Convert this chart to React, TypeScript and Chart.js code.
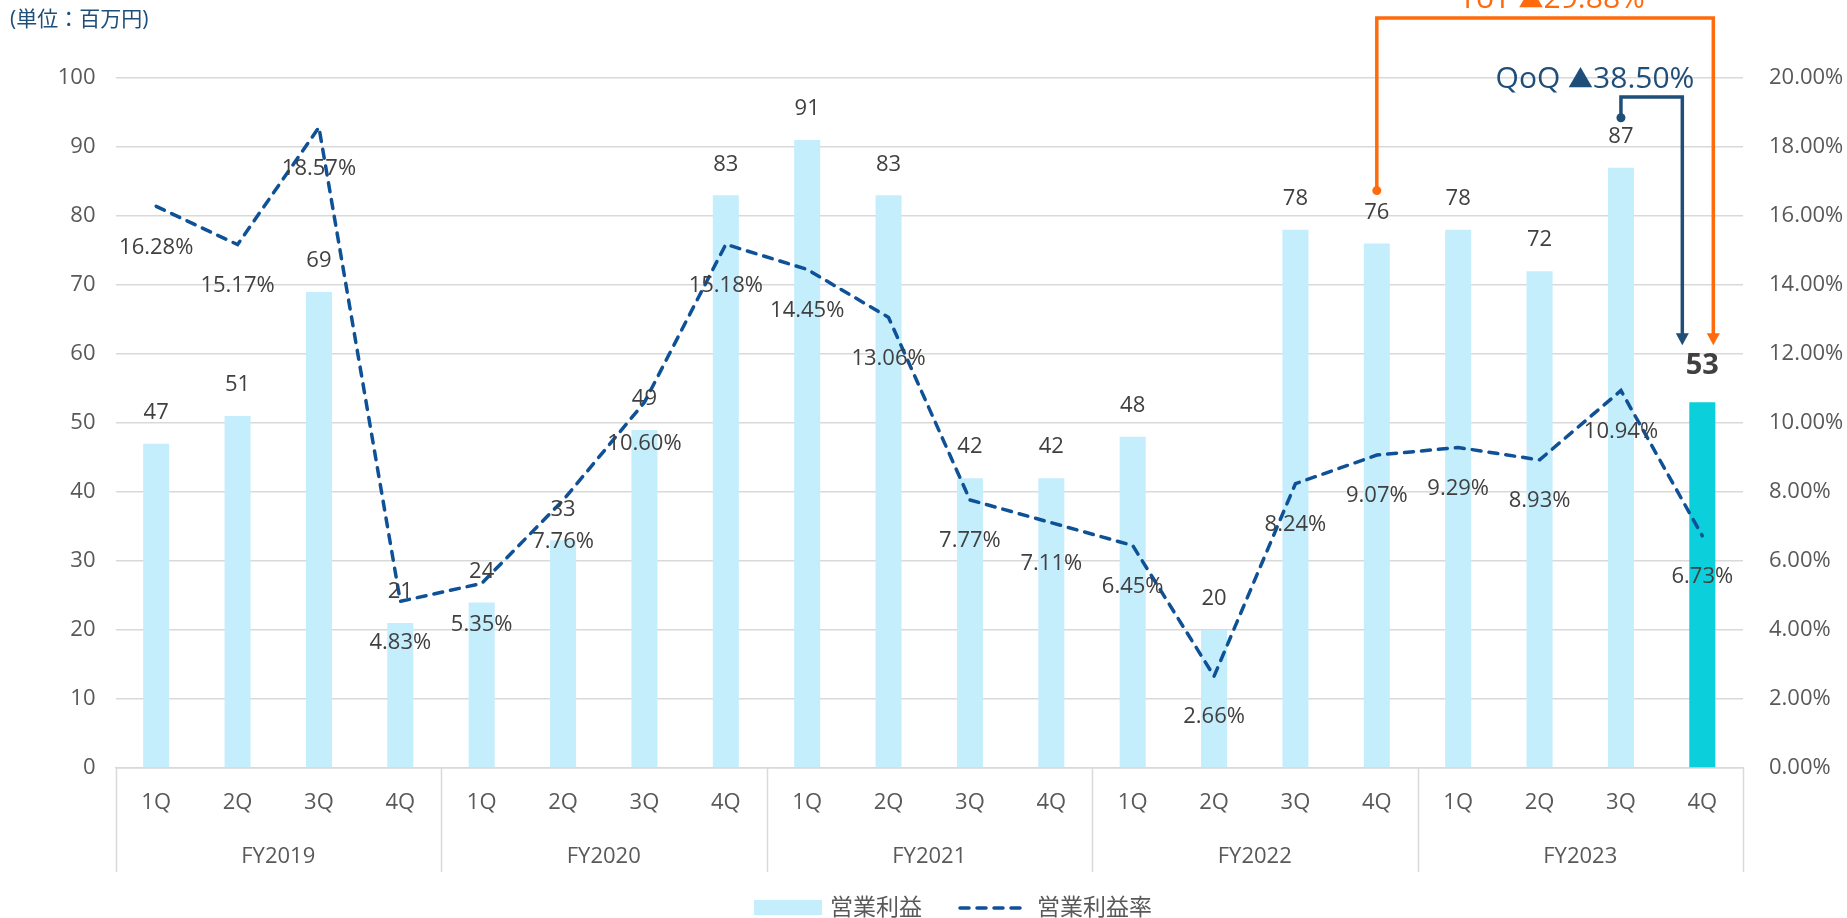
import React, { useEffect, useRef } from 'react';
import { Chart, registerables } from 'chart.js';

Chart.register(...registerables);

const quarters = ['1Q', '2Q', '3Q', '4Q', '1Q', '2Q', '3Q', '4Q', '1Q', '2Q', '3Q', '4Q', '1Q', '2Q', '3Q', '4Q', '1Q', '2Q', '3Q', '4Q'];
const fiscalYears = ['FY2019', 'FY2020', 'FY2021', 'FY2022', 'FY2023'];
const operatingProfit = [47, 51, 69, 21, 24, 33, 49, 83, 91, 83, 42, 42, 48, 20, 78, 76, 78, 72, 87, 53];
const operatingMargin = [16.28, 15.17, 18.57, 4.83, 5.35, 7.76, 10.6, 15.18, 14.45, 13.06, 7.77, 7.11, 6.45, 2.66, 8.24, 9.07, 9.29, 8.93, 10.94, 6.73];
const seriesNames = ['営業利益', '営業利益率'];
const unitLabel = '(単位：百万円)';
const yoyParts = ['YoY ', '▲', '29.88%'];
const qoqParts = ['QoQ ', '▲', '38.50%'];

const FONT = "'Open Sans', 'Noto Sans CJK JP', 'DejaVu Sans', sans-serif";
const BAR = '#C5EEFD';
const BAR_HI = '#0BCFDB';
const LINE = '#0F5196';
const NAVY = '#1F4E79';
const ORANGE = '#FF6A0D';
const AXIS_TXT = '#595959';
const LABEL_TXT = '#404040';
const GRID = '#D9D9D9';

function drawParts(ctx: any, parts: string[], cx: number, baseline: number, big: number, small: number) {
  const fonts = [`${big}px ${FONT}`, `${small}px ${FONT}`, `${big}px ${FONT}`];
  const widths = parts.map((p, i) => { ctx.font = fonts[i]; return ctx.measureText(p).width; });
  const total = widths.reduce((a, b) => a + b, 0);
  let x = cx - total / 2;
  ctx.textAlign = 'left';
  ctx.textBaseline = 'alphabetic';
  parts.forEach((p, i) => {
    ctx.font = fonts[i];
    ctx.fillText(p, x, baseline);
    x += widths[i];
  });
}

const overlay = {
  id: 'overlay',
  afterDatasetsDraw(chart: any) {
    const ctx = chart.ctx;
    const barMeta = chart.getDatasetMeta(0);
    const lineMeta = chart.getDatasetMeta(1);
    ctx.save();
    ctx.textAlign = 'center';
    ctx.textBaseline = 'middle';
    ctx.fillStyle = LABEL_TXT;
    barMeta.data.forEach((el: any, i: number) => {
      const last = i === operatingProfit.length - 1;
      ctx.font = last ? `bold 29px ${FONT}` : `22px ${FONT}`;
      ctx.fillText(String(operatingProfit[i]), el.x, el.y - (last ? 37 : 31));
    });
    ctx.font = `22px ${FONT}`;
    lineMeta.data.forEach((el: any, i: number) => {
      ctx.fillText(operatingMargin[i].toFixed(2) + '%', el.x, el.y + 41);
    });
    ctx.restore();
  },
  afterDraw(chart: any) {
    const ctx = chart.ctx;
    const xs = chart.scales.x;
    const area = chart.chartArea;
    ctx.save();

    // category group separators and fiscal-year labels
    ctx.strokeStyle = GRID;
    ctx.lineWidth = 1.5;
    for (let k = 0; k <= fiscalYears.length; k++) {
      const px = Math.round(xs.getPixelForValue(k * 4 - 0.5)) + 0.5;
      ctx.beginPath();
      ctx.moveTo(px, area.bottom);
      ctx.lineTo(px, 872);
      ctx.stroke();
    }
    ctx.fillStyle = AXIS_TXT;
    ctx.font = `22px ${FONT}`;
    ctx.textAlign = 'center';
    ctx.textBaseline = 'middle';
    fiscalYears.forEach((fy, k) => {
      ctx.fillText(fy, xs.getPixelForValue(k * 4 + 1.5), 857);
    });

    // unit label
    ctx.fillStyle = NAVY;
    ctx.font = `21px ${FONT}`;
    ctx.textAlign = 'left';
    ctx.fillText(unitLabel, 10, 20);

    // legend
    ctx.fillStyle = BAR;
    ctx.fillRect(754, 900, 68, 15);
    ctx.fillStyle = AXIS_TXT;
    ctx.font = `23px ${FONT}`;
    ctx.textAlign = 'left';
    ctx.fillText(seriesNames[0], 830, 908);
    ctx.strokeStyle = LINE;
    ctx.lineWidth = 3.5;
    ctx.lineCap = 'round';
    ctx.setLineDash([9, 8]);
    ctx.beginPath();
    ctx.moveTo(960, 908);
    ctx.lineTo(1027, 908);
    ctx.stroke();
    ctx.setLineDash([]);
    ctx.fillText(seriesNames[1], 1037, 908);

    // annotations
    const bars = chart.getDatasetMeta(0).data;
    const target = bars[19];
    const tipY = target.y - 57;
    const drawBracket = (color: string, fromEl: any, dotOffset: number, topY: number, rightX: number) => {
      ctx.strokeStyle = color;
      ctx.fillStyle = color;
      ctx.lineWidth = 3.5;
      ctx.lineCap = 'butt';
      ctx.lineJoin = 'miter';
      const dotY = fromEl.y - dotOffset;
      ctx.beginPath();
      ctx.moveTo(fromEl.x, dotY);
      ctx.lineTo(fromEl.x, topY);
      ctx.lineTo(rightX, topY);
      ctx.lineTo(rightX, tipY - 11);
      ctx.stroke();
      ctx.beginPath();
      ctx.arc(fromEl.x, dotY, 4.5, 0, Math.PI * 2);
      ctx.fill();
      ctx.beginPath();
      ctx.moveTo(rightX - 6.5, tipY - 12);
      ctx.lineTo(rightX + 6.5, tipY - 12);
      ctx.lineTo(rightX, tipY);
      ctx.closePath();
      ctx.fill();
    };
    drawBracket(ORANGE, bars[15], 53, 18, target.x + 11);
    drawBracket(NAVY, bars[18], 50, 97, target.x - 20);

    ctx.fillStyle = NAVY;
    drawParts(ctx, qoqParts, 1595, 88, 30, 25);
    ctx.fillStyle = ORANGE;
    drawParts(ctx, yoyParts, 1552, 8, 30, 25);

    ctx.restore();
  },
};

export default function App() {
  const ref = useRef<HTMLCanvasElement | null>(null);
  useEffect(() => {
    if (!ref.current) return;
    const chart = new Chart(ref.current, {
      type: 'bar',
      data: {
        labels: quarters,
        datasets: [
          {
            type: 'bar',
            label: seriesNames[0],
            data: operatingProfit,
            backgroundColor: operatingProfit.map((_, i) => (i === operatingProfit.length - 1 ? BAR_HI : BAR)),
            barPercentage: 0.32,
            categoryPercentage: 1,
            yAxisID: 'y',
            order: 2,
          },
          {
            type: 'line',
            label: seriesNames[1],
            data: operatingMargin,
            borderColor: LINE,
            borderWidth: 3.5,
            borderDash: [9, 8],
            borderCapStyle: 'round',
            pointRadius: 0,
            tension: 0,
            fill: false,
            yAxisID: 'y1',
            order: 1,
          } as any,
        ],
      },
      options: {
        responsive: false,
        animation: false,
        layout: { padding: { top: 78, left: 0, right: 0, bottom: 0 } },
        plugins: { legend: { display: false }, tooltip: { enabled: false } },
        scales: {
          x: {
            grid: { display: false, drawTicks: false },
            border: { display: true, color: GRID, width: 1.5 },
            ticks: { color: AXIS_TXT, font: { family: FONT, size: 22 }, padding: 22, maxRotation: 0, autoSkip: false },
            afterFit: (s: any) => { s.height = 150; },
          },
          y: {
            position: 'left',
            min: 0,
            max: 100,
            ticks: { stepSize: 10, color: AXIS_TXT, font: { family: FONT, size: 22 }, padding: 20 },
            grid: { color: GRID, lineWidth: 1.5, drawTicks: false },
            border: { display: false },
            afterFit: (s: any) => { s.width = 115.5; },
          },
          y1: {
            position: 'right',
            min: 0,
            max: 20,
            ticks: { stepSize: 2, color: AXIS_TXT, font: { family: FONT, size: 22 }, padding: 26, callback: (v: any) => Number(v).toFixed(2) + '%' },
            grid: { display: false, drawTicks: false },
            border: { display: false },
            afterFit: (s: any) => { s.width = 104; },
          },
        },
      },
      plugins: [overlay],
    });
    return () => chart.destroy();
  }, []);
  return (
    <div style={{ position: 'fixed', left: 0, top: 0, width: 1847, height: 918, background: '#fff' }}>
      <canvas ref={ref} width={1847} height={918} style={{ width: 1847, height: 918 }} />
    </div>
  );
}
